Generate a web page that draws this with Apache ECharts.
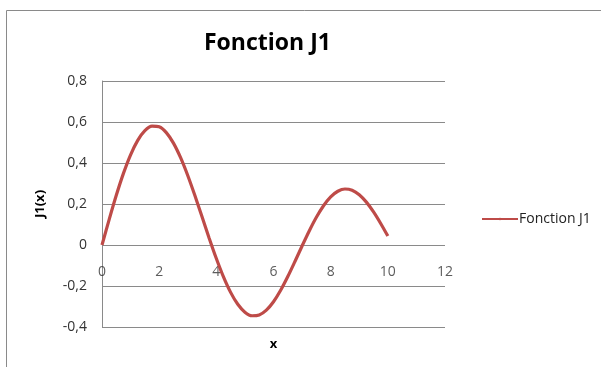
<!DOCTYPE html>
<html>
<head>
<meta charset="utf-8">
<script src="https://cdn.jsdelivr.net/npm/echarts@6/dist/echarts.min.js"></script>
<style>
  html, body { margin: 0; padding: 0; background: #fff; }
  #chart { width: 601px; height: 367px; }
</style>
</head>
<body>
<div id="chart"></div>
<script>
// Bessel function of the first kind, order 1, sampled on [0, 10]
const xValues = [0, 0.25, 0.5, 0.75, 1, 1.25, 1.5, 1.75, 2, 2.25, 2.5, 2.75, 3, 3.25, 3.5, 3.75, 4, 4.25, 4.5, 4.75,
                 5, 5.25, 5.5, 5.75, 6, 6.25, 6.5, 6.75, 7, 7.25, 7.5, 7.75, 8, 8.25, 8.5, 8.75, 9, 9.25, 9.5, 9.75, 10];
const j1Values = [0, 0.1240, 0.2423, 0.3493, 0.4401, 0.5106, 0.5579, 0.5801, 0.5767, 0.5484, 0.4971, 0.4260,
                  0.3391, 0.2411, 0.1374, 0.0333, -0.0660, -0.1555, -0.2311, -0.2892, -0.3276, -0.3450,
                  -0.3414, -0.3179, -0.2767, -0.2207, -0.1538, -0.0803, -0.0047, 0.0685, 0.1352, 0.1915,
                  0.2346, 0.2621, 0.2731, 0.2672, 0.2453, 0.2091, 0.1613, 0.1049, 0.0435];
const seriesName = 'Fonction J1';
const yTicks = [-0.4, -0.2, 0, 0.2, 0.4, 0.6, 0.8];
const xTicks = [0, 2, 4, 6, 8, 10, 12];

const fontFamily = '"Open Sans", "Liberation Sans", sans-serif';
const fmt = v => (Math.abs(v) < 1e-9 ? '0' : Number(v).toFixed(1).replace('.', ','));

const chart = echarts.init(document.getElementById('chart'), null, { renderer: 'canvas' });
chart.setOption({
  backgroundColor: '#fff',
  animation: false,
  title: {
    text: 'Fonction J1',
    left: 199,
    top: 27,
    textStyle: { fontFamily, fontSize: 23, fontWeight: 'bold', color: '#000' }
  },
  legend: {
    data: [seriesName],
    left: 476,
    top: 207,
    itemWidth: 36,
    itemHeight: 3,
    textStyle: { fontFamily, fontSize: 14, color: '#222', padding: [0, 0, 0, -4] }
  },
  graphic: [{
    type: 'rect',
    shape: { x: 6.5, y: 10.5, width: 620, height: 400 },
    style: { fill: 'none', stroke: '#8a8a8a', lineWidth: 1 },
    silent: true
  }],
  grid: { left: 102, right: 156, top: 81, bottom: 40, containLabel: false },
  xAxis: {
    type: 'value',
    min: xTicks[0],
    max: xTicks[xTicks.length - 1],
    interval: 2,
    name: 'x',
    nameLocation: 'middle',
    nameGap: 11,
    nameTextStyle: { fontFamily, fontSize: 13, fontWeight: 'bold', color: '#000' },
    axisLine: { onZero: false, show: false },
    axisTick: { show: false },
    splitLine: { show: false },
    axisLabel: { show: false }
  },
  yAxis: {
    type: 'value',
    min: yTicks[0],
    max: yTicks[yTicks.length - 1],
    interval: 0.2,
    name: 'J1(x)',
    nameLocation: 'middle',
    nameGap: 55,
    nameTextStyle: { fontFamily, fontSize: 13, fontWeight: 'bold', color: '#000' },
    axisLine: { show: true, lineStyle: { color: '#8a8a8a', width: 1 } },
    axisTick: { show: false },
    axisLabel: { fontFamily, fontSize: 14, color: '#333', margin: 15, formatter: fmt },
    splitLine: { show: true, lineStyle: { color: '#8a8a8a', width: 1 } }
  },
  series: [
    {
      // tick labels of the horizontal axis, written along y = 0
      type: 'scatter',
      silent: true,
      symbolSize: 0,
      data: xTicks.map(x => [x, 0]),
      label: {
        show: true,
        position: 'bottom',
        distance: 20,
        formatter: p => String(p.value[0]),
        fontFamily, fontSize: 14, color: '#333'
      },
      z: 1
    },
    {
      name: seriesName,
      type: 'line',
      smooth: 0.3,
      symbol: 'none',
      data: xValues.map((x, i) => [x, j1Values[i]]),
      lineStyle: { color: '#BE4B48', width: 3.2 },
      itemStyle: { color: '#BE4B48' },
      z: 3
    }
  ]
});
</script>
</body>
</html>
